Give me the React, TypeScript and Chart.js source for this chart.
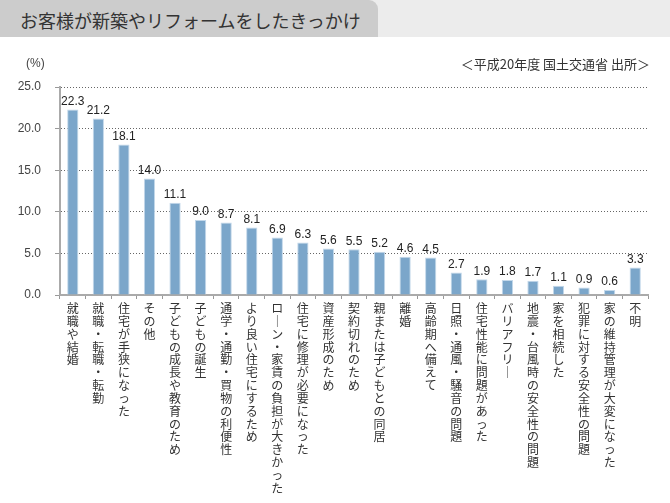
import React, { useEffect, useRef } from "react";
import { Chart, registerables } from "chart.js";

Chart.register(...registerables);

const TITLE = "お客様が新築やリフォームをしたきっかけ";
const UNIT = "(%)";
const SOURCE = "＜平成20年度 国土交通省 出所＞";

const categories: string[] = [
  "就職や結婚",
  "就職・転職・転勤",
  "住宅が手狭になった",
  "その他",
  "子どもの成長や教育のため",
  "子どもの誕生",
  "通学・通勤・買物の利便性",
  "より良い住宅にするため",
  "ローン・家賃の負担が大きかった",
  "住宅に修理が必要になった",
  "資産形成のため",
  "契約切れのため",
  "親または子どもとの同居",
  "離婚",
  "高齢期へ備えて",
  "日照・通風・騒音の問題",
  "住宅性能に問題があった",
  "バリアフリー",
  "地震・台風時の安全性の問題",
  "家を相続した",
  "犯罪に対する安全性の問題",
  "家の維持管理が大変になった",
  "不明",
];

const values: number[] = [
  22.3, 21.2, 18.1, 14.0, 11.1, 9.0, 8.7, 8.1, 6.9, 6.3, 5.6, 5.5, 5.2, 4.6,
  4.5, 2.7, 1.9, 1.8, 1.7, 1.1, 0.9, 0.6, 3.3,
];

const yMin = 0;
const yMax = 25;
const yStep = 5;

const toVertical = (s: string): string[] =>
  Array.from(s).map((c) => (c === "ー" ? "｜" : c));

const valueLabelPlugin = {
  id: "valueLabels",
  afterDatasetsDraw(chart: any) {
    const ctx = chart.ctx;
    const meta = chart.getDatasetMeta(0);
    const data = chart.data.datasets[0].data as number[];
    ctx.save();
    ctx.font = '12px "Liberation Sans", Arial, sans-serif';
    ctx.fillStyle = "#222";
    ctx.textAlign = "center";
    ctx.textBaseline = "bottom";
    meta.data.forEach((bar: any, i: number) => {
      ctx.fillText(data[i].toFixed(1), bar.x, bar.y - 2);
    });
    ctx.restore();
  },
};

export default function App() {
  const canvasRef = useRef<HTMLCanvasElement | null>(null);

  useEffect(() => {
    if (!canvasRef.current) return;
    const chart = new Chart(canvasRef.current, {
      type: "bar",
      data: {
        labels: categories,
        datasets: [
          {
            data: values,
            backgroundColor: "#7ba6ca",
            borderColor: "#c3d8ea",
            borderWidth: 1,
            barPercentage: 0.44,
            categoryPercentage: 1,
          },
        ],
      },
      options: {
        responsive: false,
        animation: false,
        layout: { padding: { top: 87, right: 22, bottom: 0, left: 0 } },
        plugins: {
          legend: { display: false },
          tooltip: { enabled: false },
          title: { display: false },
        },
        scales: {
          x: {
            afterFit: (scale: any) => {
              scale.height = 208;
            },
            grid: {
              display: true,
              drawOnChartArea: false,
              drawTicks: true,
              tickLength: 4,
              offset: true,
              tickColor: "#999",
              tickWidth: 1,
            },
            border: { display: true, color: "#aaa", width: 2 },
            ticks: {
              autoSkip: false,
              maxRotation: 0,
              minRotation: 0,
              padding: 3,
              color: "#333",
              font: { family: '"Noto Sans CJK JP", sans-serif', size: 12, lineHeight: 1.07 },
              callback: (_v: any, i: number) => toVertical(categories[i]),
            },
          },
          y: {
            min: yMin,
            max: yMax,
            afterFit: (scale: any) => {
              scale.width = 60;
            },
            grid: {
              color: (c: any) => (c.tick && c.tick.value === 0 ? "rgba(0,0,0,0)" : "#666"),
              lineWidth: 1,
              drawTicks: true,
              tickLength: 5,
              tickColor: "#999",
              tickBorderDash: [],
            },
            border: { display: true, color: "#aaa", width: 2, dash: [1, 2] },
            ticks: {
              stepSize: yStep,
              padding: 14,
              color: "#444",
              font: { family: '"Liberation Sans", Arial, sans-serif', size: 12 },
              callback: (v: any) => Number(v).toFixed(1),
            },
          },
        },
      },
      plugins: [valueLabelPlugin],
    });
    return () => chart.destroy();
  }, []);

  return (
    <div
      style={{
        position: "absolute",
        left: 0,
        top: 0,
        width: 670,
        height: 503,
        background: "#fff",
        overflow: "hidden",
        fontFamily: '"Noto Sans CJK JP", sans-serif',
      }}
    >
      <div
        style={{
          position: "absolute",
          left: 0,
          top: 0,
          width: 670,
          height: 37,
          background: "#ececec",
        }}
      />
      <div
        style={{
          position: "absolute",
          left: 0,
          top: 0,
          width: 378,
          height: 37,
          background: "#cccccc",
          borderTopRightRadius: 9,
        }}
      />
      <div
        style={{
          position: "absolute",
          left: 20,
          top: 0,
          height: 40,
          lineHeight: "40px",
          fontSize: 18,
          color: "#333",
          whiteSpace: "nowrap",
        }}
      >
        {TITLE}
      </div>
      <canvas
        ref={canvasRef}
        width={670}
        height={503}
        style={{ position: "absolute", left: 0, top: 0, width: 670, height: 503 }}
      />
      <div
        style={{
          position: "absolute",
          left: 26,
          top: 54,
          fontSize: 12,
          lineHeight: "18px",
          color: "#444",
          fontFamily: '"Liberation Sans", Arial, sans-serif',
        }}
      >
        {UNIT}
      </div>
      <div
        style={{
          position: "absolute",
          right: 20,
          top: 55,
          fontSize: 13,
          lineHeight: "18px",
          color: "#333",
          whiteSpace: "nowrap",
        }}
      >
        {SOURCE}
      </div>
    </div>
  );
}
